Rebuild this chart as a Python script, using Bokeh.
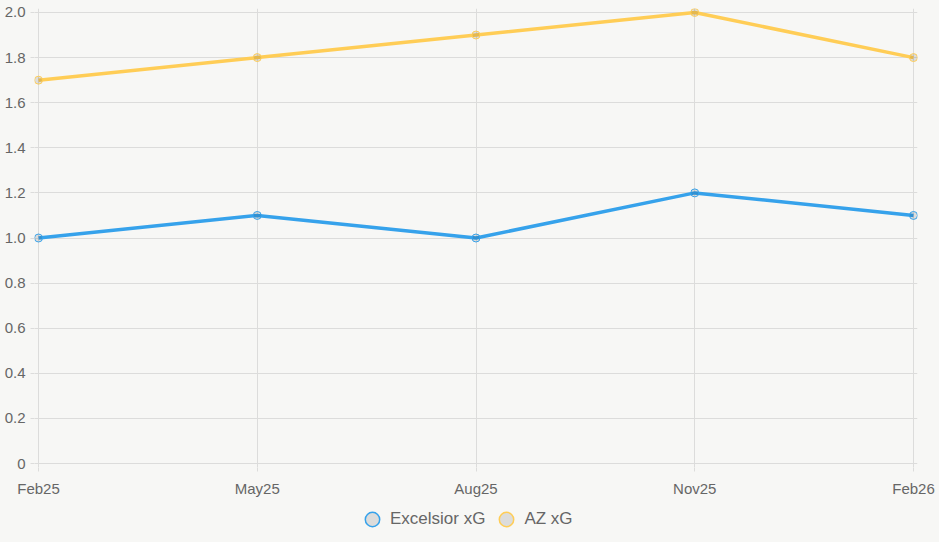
from bokeh.plotting import figure
from bokeh.layouts import column
from bokeh.models import Range1d, FixedTicker, Legend, LegendItem
from bokeh.embed import file_html
from bokeh.resources import INLINE

# Quarterly expected-goals (xG) figures
months = ["Feb25", "May25", "Aug25", "Nov25", "Feb26"]
excelsior_xg = [1.0, 1.1, 1.0, 1.2, 1.1]
az_xg = [1.7, 1.8, 1.9, 2.0, 1.8]
y_ticks = [0.0, 0.2, 0.4, 0.6, 0.8, 1.0, 1.2, 1.4, 1.6, 1.8, 2.0]
y_tick_labels = ["0", "0.2", "0.4", "0.6", "0.8", "1.0", "1.2", "1.4", "1.6", "1.8", "2.0"]

BG = "#f7f7f5"
GRID = "#dcdcdb"
TEXT = "#666666"
FONT = "Liberation Sans"
BLUE = "#36a2eb"
YELLOW = "#ffcd56"

xs = list(range(len(months)))

# a little slack around the data so edge markers are not cut by the frame
PADX = 0.0183
PADY = 0.0177

p = figure(
    width=939, height=500,
    x_range=Range1d(-PADX, len(months) - 1 + PADX),
    y_range=Range1d(-PADY, 2.0 + PADY),
    output_backend="svg", toolbar_location=None,
    background_fill_color=BG, border_fill_color=BG,
    min_border_left=34, min_border_right=22,
    min_border_top=8, min_border_bottom=33,
)
p.outline_line_color = None

# axes: the zero grid lines act as the axis borders
p.xaxis.ticker = FixedTicker(ticks=xs)
p.xaxis.major_label_overrides = {i: m for i, m in enumerate(months)}
p.yaxis.ticker = FixedTicker(ticks=y_ticks)
p.yaxis.major_label_overrides = {t: s for t, s in zip(y_ticks, y_tick_labels)}
for ax in (p.xaxis[0], p.yaxis[0]):
    ax.axis_line_color = None
    ax.major_tick_line_color = GRID
    ax.major_tick_out = 4
    ax.major_tick_in = 0
    ax.minor_tick_line_color = None
    ax.major_label_text_color = TEXT
    ax.major_label_text_font = FONT
    ax.major_label_text_font_size = "15px"
p.yaxis.major_label_standoff = 5
p.xaxis.major_label_standoff = 8

p.xgrid.ticker = FixedTicker(ticks=xs)
p.ygrid.ticker = FixedTicker(ticks=y_ticks)
p.grid.grid_line_color = GRID
p.grid.grid_line_width = 1

# series
p.line(xs, excelsior_xg, line_color=BLUE, line_width=3.5)
p.scatter(xs, excelsior_xg, size=8, fill_color="black", fill_alpha=0.1,
          line_color=BLUE, line_width=1)
p.line(xs, az_xg, line_color=YELLOW, line_width=3.5)
p.scatter(xs, az_xg, size=8, fill_color="black", fill_alpha=0.1,
          line_color=YELLOW, line_width=1)

# legend strip underneath the chart (its own ranges keep the swatch
# renderers out of view, only their legend glyphs are shown)
lg = figure(
    width=939, height=42,
    x_range=Range1d(-PADX, len(months) - 1 + PADX),
    y_range=Range1d(-2, -1),
    output_backend="svg", toolbar_location=None,
    background_fill_color=BG, border_fill_color=BG,
    x_axis_location=None, y_axis_location=None,
    min_border=0,
)
lg.outline_line_color = None
lg.grid.visible = False
k1 = lg.scatter(xs, excelsior_xg, size=14, fill_color="#dcdcdb",
                line_color=BLUE, line_width=1.5)
k2 = lg.scatter(xs, az_xg, size=14, fill_color="#dcdcdb",
                line_color=YELLOW, line_width=1.5)

legend = Legend(
    items=[LegendItem(label="Excelsior xG", renderers=[k1]),
           LegendItem(label="AZ xG", renderers=[k2])],
    orientation="horizontal",
    location=(320, 5),
    glyph_width=36, glyph_height=36,
    label_standoff=0, spacing=3, padding=0, margin=0,
    border_line_color=None, background_fill_alpha=0,
    label_text_font=FONT, label_text_font_size="17px", label_text_color=TEXT,
)
lg.add_layout(legend, "center")

page = column(p, lg, spacing=0, styles={"background-color": BG})
open("out.html", "w").write(file_html(page, INLINE))
